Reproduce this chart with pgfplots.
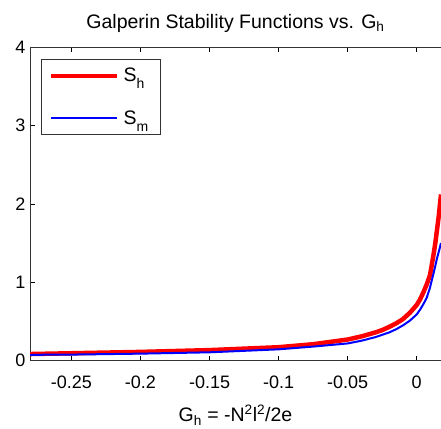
\documentclass[border=0pt]{standalone}
\usepackage{fontspec}
\setmainfont{Liberation Sans}
\usepackage{pgfplots}
\pgfplotsset{compat=1.18}
\newcommand{\sub}[1]{\raisebox{-7pt}{\fontsize{14}{14}\selectfont #1}}
\begin{document}
\begin{tikzpicture}
\begin{axis}[
  scale only axis,
  width=411pt, height=313.7pt,
  xmin=-0.28, xmax=0.0176,
  ymin=0, ymax=4,
  axis x line*=box, axis y line*=left,
  axis line style={black!80, line width=0.9pt},
  tick align=inside,
  major tick length=5pt,
  tick style={black, line width=0.7pt},
  xtick={-0.25,-0.2,-0.15,-0.1,-0.05,0},
  xticklabels={-0.25,-0.2,-0.15,-0.1,-0.05,0},
  ytick={0,1,2,3,4},
  yticklabels={0,1,2,3,4},
  ticklabel style={font=\fontsize{18}{20}\selectfont},
  xticklabel style={yshift=-12pt},
  yticklabel style={xshift=-1pt},
  title={Galperin Stability Functions vs. G\textsubscript{h}},
  title style={font=\fontsize{19.5}{22}\selectfont, yshift=5pt},
  xlabel={G\textsubscript{h} = -N\textsuperscript{2}l\textsuperscript{2}/2e},
  xlabel style={font=\fontsize{19.5}{22}\selectfont, yshift=-9pt},
  legend style={at={(axis description cs:0.026,0.962)}, anchor=north west,
    draw=black!80, line width=0.9pt, font=\fontsize{19.5}{21}\selectfont,
    inner xsep=8pt, inner ysep=9pt, row sep=27pt,
    nodes={inner xsep=4pt, inner ysep=0pt}, cells={anchor=west}},
  legend image code/.code={\draw[#1] (0pt,0pt) -- (66pt,0pt);},
  clip mode=individual,
]
\coordinate (bl) at (rel axis cs:0,0);
\coordinate (tr) at (rel axis cs:1,1);
\addplot[red, line width=4.5pt] coordinates {
  (-0.28,0.085) (-0.25,0.095) (-0.2,0.112) (-0.15,0.135) (-0.1,0.172)
  (-0.075,0.21) (-0.05,0.27) (-0.04,0.31) (-0.03,0.36) (-0.025,0.39)
  (-0.02,0.43) (-0.015,0.475) (-0.01,0.53) (-0.005,0.61) (0,0.71)
  (0.0024,0.78) (0.0048,0.87) (0.0072,0.97) (0.0096,1.09) (0.012,1.33)
  (0.0135,1.50) (0.0145,1.64) (0.016,1.85) (0.0176,2.12)
};
\addplot[blue, line width=2pt] coordinates {
  (-0.28,0.075) (-0.25,0.078) (-0.2,0.09) (-0.15,0.107) (-0.1,0.145)
  (-0.075,0.18) (-0.05,0.22) (-0.04,0.255) (-0.03,0.30) (-0.025,0.33)
  (-0.02,0.36) (-0.015,0.40) (-0.01,0.45) (-0.005,0.51) (0,0.59)
  (0.0024,0.65) (0.0048,0.72) (0.0072,0.80) (0.0096,0.93) (0.012,1.10)
  (0.0135,1.21) (0.0145,1.29) (0.016,1.39) (0.0176,1.50)
};
\legend{S\sub{h}, S\sub{m}\rule[-19pt]{0pt}{1pt}}
\end{axis}
\pgfresetboundingbox
\path ([xshift=-30pt,yshift=-67.3pt]bl) rectangle ([yshift=47pt]tr);
\end{tikzpicture}
\end{document}
